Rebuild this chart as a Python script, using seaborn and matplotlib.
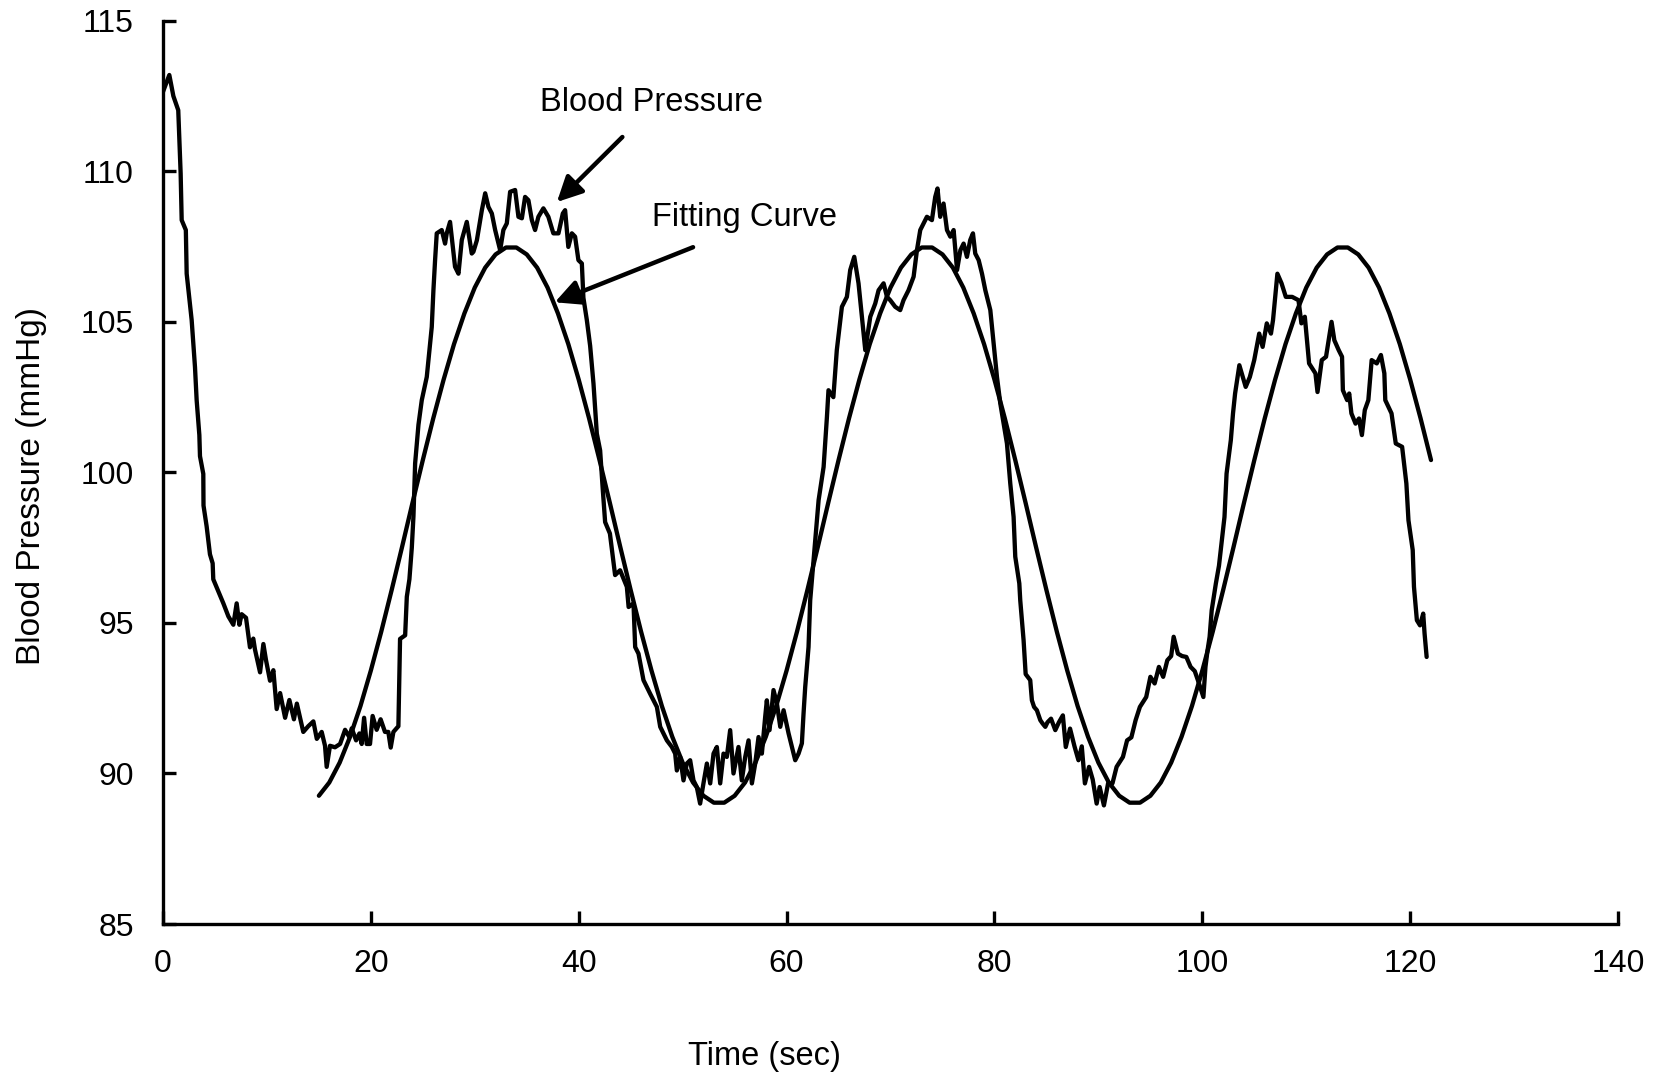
import matplotlib
matplotlib.use("Agg")
import matplotlib.pyplot as plt
import seaborn as sns
import pandas as pd

# ---------------- data ----------------
bp_time = [
    0.0, 0.61, 1.0, 1.47, 1.7, 1.8, 2.2, 2.28, 2.76, 3.08, 3.24, 3.5, 3.56, 3.88, 3.9,
    4.2, 4.52, 4.78, 4.84, 5.33, 5.81, 6.29, 6.77, 7.09, 7.35, 7.57, 7.99, 8.37, 8.69,
    8.85, 9.34, 9.66, 9.91, 10.3, 10.62, 10.94, 11.27, 11.75, 12.16, 12.6, 12.88, 13.5,
    13.98, 14.47, 14.8, 15.27, 15.59, 15.75, 16.07, 16.55, 17.04, 17.52, 17.93, 18.16,
    18.58, 18.9, 19.12, 19.35, 19.6, 19.92, 20.17, 20.56, 20.94, 21.36, 21.68, 21.91,
    22.17, 22.65, 22.81, 23.3, 23.46, 23.71, 23.94, 24.1, 24.26, 24.58, 24.9, 25.38,
    25.86, 26.02, 26.18, 26.34, 26.82, 27.14, 27.3, 27.62, 28.1, 28.43, 28.75, 29.23,
    29.71, 29.87, 30.2, 30.68, 31.0, 31.31, 31.64, 31.96, 32.44, 32.75, 33.08, 33.4,
    33.88, 34.2, 34.53, 34.84, 35.16, 35.49, 35.8, 36.12, 36.6, 37.08, 37.56, 38.05,
    38.47, 38.69, 39.0, 39.34, 39.65, 39.97, 40.3, 40.45, 40.78, 41.1, 41.42, 41.74,
    42.06, 42.3, 42.54, 43.0, 43.5, 43.98, 44.63, 44.8, 45.27, 45.43, 45.75, 46.23,
    46.87, 47.52, 47.84, 48.48, 48.96, 49.28, 49.44, 49.76, 50.08, 50.4, 50.72, 51.04,
    51.36, 51.68, 52.0, 52.33, 52.65, 52.97, 53.29, 53.61, 53.93, 54.25, 54.57, 54.89,
    55.37, 55.69, 56.02, 56.34, 56.66, 56.98, 57.3, 57.62, 57.94, 58.1, 58.36, 58.74,
    59.07, 59.39, 59.71, 60.19, 60.51, 60.83, 61.15, 61.47, 61.63, 61.79, 62.11, 62.27,
    62.59, 62.91, 63.08, 63.56, 63.88, 64.03, 64.5, 64.83, 65.32, 65.8, 66.12, 66.51,
    66.92, 67.25, 67.57, 68.05, 68.53, 68.85, 69.33, 69.66, 69.97, 70.45, 70.93, 71.25,
    71.73, 72.22, 72.54, 72.86, 73.5, 73.98, 74.3, 74.52, 74.78, 75.1, 75.43, 75.75,
    76.07, 76.4, 76.72, 77.03, 77.35, 77.67, 77.93, 78.15, 78.48, 78.8, 79.12, 79.6,
    79.92, 80.24, 80.56, 80.88, 81.2, 81.52, 81.84, 82.0, 82.39, 82.48, 82.8, 83.0,
    83.44, 83.6, 83.81, 84.08, 84.41, 84.63, 84.89, 85.1, 85.44, 85.85, 86.2, 86.58,
    86.86, 87.27, 87.7, 88.08, 88.4, 88.7, 89.1, 89.45, 89.83, 90.12, 90.53, 90.93,
    91.35, 91.75, 92.36, 92.76, 93.17, 93.58, 93.99, 94.6, 95.0, 95.41, 95.82, 96.23,
    96.63, 97.0, 97.24, 97.65, 98.05, 98.46, 98.87, 99.27, 99.68, 100.1, 100.3, 100.5,
    100.7, 100.9, 101.3, 101.6, 102.13, 102.33, 102.74, 102.95, 103.15, 103.56, 104.17,
    104.57, 104.99, 105.47, 105.8, 106.2, 106.6, 106.8, 107.22, 107.62, 108.03, 108.64,
    109.25, 109.53, 109.86, 110.27, 110.88, 111.08, 111.49, 111.9, 112.43, 112.7, 113.12,
    113.44, 113.52, 113.93, 114.13, 114.34, 114.74, 115.07, 115.35, 115.63, 115.97,
    116.29, 116.78, 117.18, 117.51, 117.6, 118.2, 118.61, 119.22, 119.63, 119.83, 120.24,
    120.36, 120.64, 120.94, 121.25, 121.38, 121.58,
]
bp_value = [
    112.64, 113.2, 112.5, 112.03, 109.93, 108.38, 108.05, 106.6, 105.06, 103.5, 102.4,
    101.24, 100.54, 99.95, 98.9, 98.21, 97.28, 96.98, 96.45, 96.05, 95.65, 95.22, 94.94,
    95.65, 94.94, 95.29, 95.17, 94.19, 94.48, 94.12, 93.36, 94.3, 93.77, 93.08, 93.43,
    92.14, 92.67, 91.85, 92.44, 91.8, 92.32, 91.38, 91.57, 91.73, 91.15, 91.38, 90.92,
    90.22, 90.92, 90.87, 90.98, 91.45, 91.21, 91.5, 91.1, 91.33, 90.98, 91.85, 90.98,
    90.98, 91.91, 91.45, 91.8, 91.38, 91.38, 90.86, 91.38, 91.57, 94.47, 94.59, 95.87,
    96.45, 97.5, 98.55, 100.3, 101.58, 102.4, 103.17, 104.83, 106.05, 107.05, 107.94,
    108.05, 107.6, 107.94, 108.32, 106.83, 106.6, 107.72, 108.32, 107.27, 107.33, 107.71,
    108.71, 109.27, 108.82, 108.6, 108.05, 107.38, 108.05, 108.27, 109.32, 109.38, 108.49,
    108.44, 109.15, 109.04, 108.38, 108.05, 108.49, 108.77, 108.49, 107.94, 107.94, 108.6,
    108.71, 107.49, 107.94, 107.83, 107.05, 106.94, 105.8, 105.06, 104.2, 102.95, 101.29,
    100.73, 99.5, 98.35, 97.97, 96.59, 96.75, 96.2, 95.53, 95.65, 94.2, 93.98, 93.1,
    92.65, 92.21, 91.55, 91.1, 90.88, 90.66, 90.1, 90.55, 89.77, 90.33, 90.44, 89.77,
    89.55, 89.0, 89.67, 90.33, 89.67, 90.66, 90.88, 89.67, 90.66, 90.55, 91.44, 90.0,
    90.88, 89.77, 90.55, 91.1, 89.67, 90.33, 91.21, 90.66, 91.88, 92.43, 91.44, 92.77,
    92.32, 91.55, 92.1, 91.33, 90.88, 90.44, 90.66, 91.0, 91.99, 92.87, 94.2, 95.75,
    97.08, 98.41, 99.08, 100.18, 101.84, 102.73, 102.5, 104.06, 105.5, 105.83, 106.72,
    107.16, 106.28, 105.17, 104.06, 105.17, 105.61, 106.05, 106.28, 105.83, 105.72,
    105.5, 105.39, 105.72, 106.05, 106.5, 107.38, 108.05, 108.49, 108.38, 109.15, 109.43,
    108.49, 108.93, 108.05, 107.83, 108.05, 106.72, 107.38, 107.6, 107.16, 107.72,
    107.94, 107.27, 107.05, 106.6, 106.05, 105.39, 104.28, 103.17, 102.29, 101.62,
    100.96, 99.63, 98.52, 97.2, 96.31, 95.75, 94.43, 93.3, 93.1, 92.43, 92.21, 92.1,
    91.77, 91.66, 91.55, 91.7, 91.82, 91.44, 91.7, 91.93, 90.88, 91.49, 90.9, 90.44,
    90.9, 89.67, 90.22, 89.8, 89.0, 89.55, 88.94, 89.67, 89.67, 90.22, 90.55, 91.1,
    91.2, 91.77, 92.21, 92.54, 93.21, 92.99, 93.54, 93.21, 93.76, 93.9, 94.54, 93.98,
    93.9, 93.87, 93.54, 93.4, 92.99, 92.54, 93.54, 94.09, 94.54, 95.42, 96.31, 96.9,
    98.52, 99.96, 101.07, 101.96, 102.62, 103.56, 102.84, 103.17, 103.73, 104.61, 104.17,
    104.95, 104.61, 105.06, 106.6, 106.28, 105.83, 105.83, 105.72, 104.95, 105.17,
    103.62, 103.29, 102.67, 103.73, 103.84, 105.0, 104.39, 104.06, 103.84, 102.73, 102.4,
    102.62, 101.96, 101.62, 101.79, 101.24, 102.07, 102.4, 103.73, 103.62, 103.9, 103.29,
    102.4, 101.96, 100.96, 100.85, 99.63, 98.41, 97.42, 96.2, 95.09, 94.92, 95.31, 94.65,
    93.87,
]

fit_time = list(range(15, 123))
fit_value = [
    89.26, 89.70, 90.36, 91.22, 92.24, 93.42, 94.71, 96.09, 97.52, 98.98,
    100.41, 101.79, 103.08, 104.26, 105.28, 106.14, 106.80, 107.24, 107.47, 107.47,
    107.24, 106.80, 106.14, 105.28, 104.26, 103.08, 101.79, 100.41, 98.98, 97.52,
    96.09, 94.71, 93.42, 92.24, 91.22, 90.36, 89.70, 89.26, 89.03, 89.03,
    89.26, 89.70, 90.36, 91.22, 92.24, 93.42, 94.71, 96.09, 97.52, 98.98,
    100.41, 101.79, 103.08, 104.26, 105.28, 106.14, 106.80, 107.24, 107.47, 107.47,
    107.24, 106.80, 106.14, 105.28, 104.26, 103.08, 101.79, 100.41, 98.98, 97.52,
    96.09, 94.71, 93.42, 92.24, 91.22, 90.36, 89.70, 89.26, 89.03, 89.03,
    89.26, 89.70, 90.36, 91.22, 92.24, 93.42, 94.71, 96.09, 97.52, 98.98,
    100.41, 101.79, 103.08, 104.26, 105.28, 106.14, 106.80, 107.24, 107.47, 107.47,
    107.24, 106.80, 106.14, 105.28, 104.26, 103.08, 101.79, 100.41,
]

x_ticks = [0, 20, 40, 60, 80, 100, 120, 140]
y_ticks = [85, 90, 95, 100, 105, 110, 115]

# ---------------- styling ----------------
sns.set_theme(style="ticks")
plt.rcParams["font.family"] = ["Liberation Sans", "DejaVu Sans"]
plt.rcParams.update({
    "text.color": "black",
    "axes.labelcolor": "black",
    "xtick.color": "black",
    "ytick.color": "black",
})

fig = plt.figure(figsize=(16.63, 10.83), dpi=100)
ax = fig.add_axes([0.098, 0.1468, 0.875, 0.834])

bp_df = pd.DataFrame({"t": bp_time, "v": bp_value})
fit_df = pd.DataFrame({"t": fit_time, "v": fit_value})

sns.lineplot(data=bp_df, x="t", y="v", sort=False, estimator=None,
             color="black", lw=3.1, ax=ax)
sns.lineplot(data=fit_df, x="t", y="v", sort=False, estimator=None,
             color="black", lw=3.1, ax=ax)

ax.set_xlim(0, 140)
ax.set_ylim(85, 115)
ax.set_xticks(x_ticks)
ax.set_yticks(y_ticks)
ax.set_xticklabels([str(v) for v in x_ticks])
ax.set_yticklabels([str(v) for v in y_ticks])

for side in ["top", "right"]:
    ax.spines[side].set_visible(False)
for side in ["left", "bottom"]:
    ax.spines[side].set_linewidth(2.4)
    ax.spines[side].set_color("black")

ax.tick_params(axis="both", direction="in", length=9.5, width=2.4,
               colors="black", labelsize=23)
ax.tick_params(axis="x", pad=18)
ax.tick_params(axis="y", pad=21)

ax.set_xlabel("Time (sec)", fontsize=23.5, color="black")
ax.xaxis.label.set_va("center")
ax.xaxis.set_label_coords(0.413, -0.147)
ax.set_ylabel("Blood Pressure (mmHg)", fontsize=24, color="black")
ax.yaxis.label.set_va("center")
ax.yaxis.set_label_coords(-0.0905, 0.485)

# annotations
ax.text(47.0, 112.3, "Blood Pressure", fontsize=23.5, ha="center", va="center",
        color="black")
ax.text(55.97, 108.45, "Fitting Curve", fontsize=23.5, ha="center", va="center",
        color="black")
arrow_kw = dict(arrowstyle="-|>", color="black", lw=3.2, mutation_scale=38,
                shrinkA=0, shrinkB=0)
ax.annotate("", xy=(37.9, 108.98), xytext=(44.2, 111.14), arrowprops=arrow_kw)
ax.annotate("", xy=(37.7, 105.65), xytext=(51.0, 107.48), arrowprops=arrow_kw)

fig.savefig("out.png", dpi=100, facecolor="white")
